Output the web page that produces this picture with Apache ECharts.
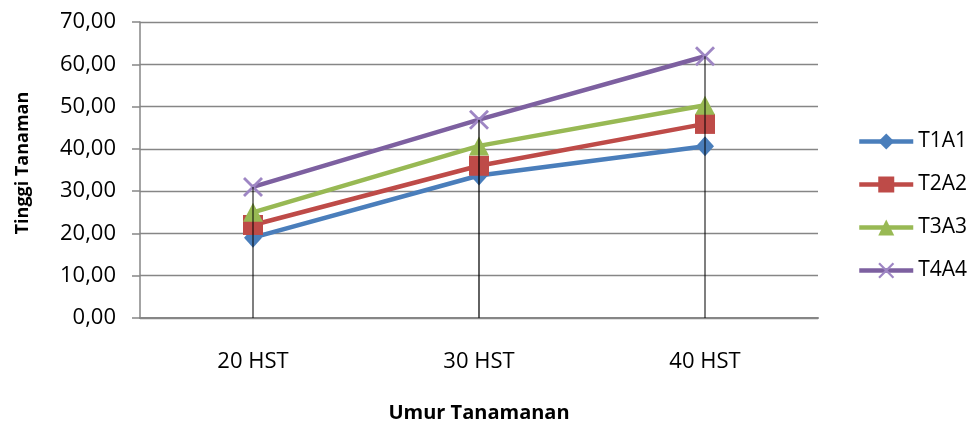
<!DOCTYPE html>
<html>
<head>
<meta charset="utf-8">
<script src="https://cdn.jsdelivr.net/npm/echarts@6/dist/echarts.min.js"></script>
<style>html,body{margin:0;padding:0;background:#fff}#c{width:968px;height:428px}</style>
</head>
<body>
<div id="c"></div>
<script>
var categories = ['20 HST', '30 HST', '40 HST'];
var T1A1 = [19.0, 33.7, 40.6];
var T2A2 = [22.0, 36.0, 45.9];
var T3A3 = [25.0, 40.7, 50.3];
var T4A4 = [31.0, 46.9, 61.9];
var yTicks = {min: 0, max: 70, interval: 10};

var chart = echarts.init(document.getElementById('c'));
var font = 'Open Sans';
var crossPath = 'path://M0,1L1,0L10,9L9,10Z M9,0L10,1L1,10L0,9Z';
function lineSeries(name, data, color, symbol, size, symColor) {
  return {
    name: name, type: 'line', data: data, z: 3,
    lineStyle: {color: color, width: 4.5},
    itemStyle: {color: symColor || color},
    symbol: symbol, symbolSize: size, showSymbol: true,
    emphasis: {disabled: true}
  };
}
chart.setOption({
  animation: false,
  grid: {left: 140, right: 150, top: 22, bottom: 107},
  legend: {
    orient: 'vertical', left: 852, top: 126,
    itemWidth: 54, itemHeight: 20, itemGap: 22,
    lineStyle: {width: 4.5},
    textStyle: {fontFamily: font, fontSize: 21, color: '#000'},
    data: ['T1A1', 'T2A2', 'T3A3', 'T4A4']
  },
  xAxis: {
    type: 'category', data: categories, boundaryGap: true,
    axisLine: {lineStyle: {color: '#868686', width: 2}},
    axisTick: {show: false},
    axisLabel: {fontFamily: font, fontSize: 22, color: '#000', margin: 33},
    name: 'Umur Tanamanan', nameLocation: 'middle', nameGap: 85,
    nameTextStyle: {fontFamily: font, fontSize: 20, fontWeight: 'bold', color: '#000'}
  },
  yAxis: {
    type: 'value', min: yTicks.min, max: yTicks.max, interval: yTicks.interval,
    axisLine: {show: true, lineStyle: {color: '#868686', width: 1.5}},
    axisTick: {show: true, length: 8, lineStyle: {color: '#868686', width: 1.5}},
    splitLine: {lineStyle: {color: '#868686', width: 1.3}},
    axisLabel: {fontFamily: font, fontSize: 22, color: '#000', margin: 24,
      formatter: function (v) { return v.toFixed(2).replace('.', ','); }},
    name: 'Tinggi Tanaman', nameLocation: 'middle', nameGap: 108, nameRotate: 90,
    nameTextStyle: {fontFamily: font, fontSize: 18, fontWeight: 'bold', color: '#000', padding: [0, 0, 0, 14]}
  },
  series: [
    lineSeries('T1A1', T1A1, '#4a7ebb', 'diamond', [18, 20]),
    lineSeries('T2A2', T2A2, '#be4b48', 'rect', 20),
    lineSeries('T3A3', T3A3, '#98b954', 'triangle', [20, 19]),
    lineSeries('T4A4', T4A4, '#7d60a0', crossPath, 20, '#9e86c4'),
    {
      name: 'drop', type: 'bar', barWidth: 1, z: 5, silent: true,
      data: T4A4.map(function (v, i) {
        return {value: v, itemStyle: {color: '#000', borderColor: '#000', borderWidth: i === 1 ? 0.6 : 0}};
      })
    }
  ]
});
</script>
</body>
</html>
